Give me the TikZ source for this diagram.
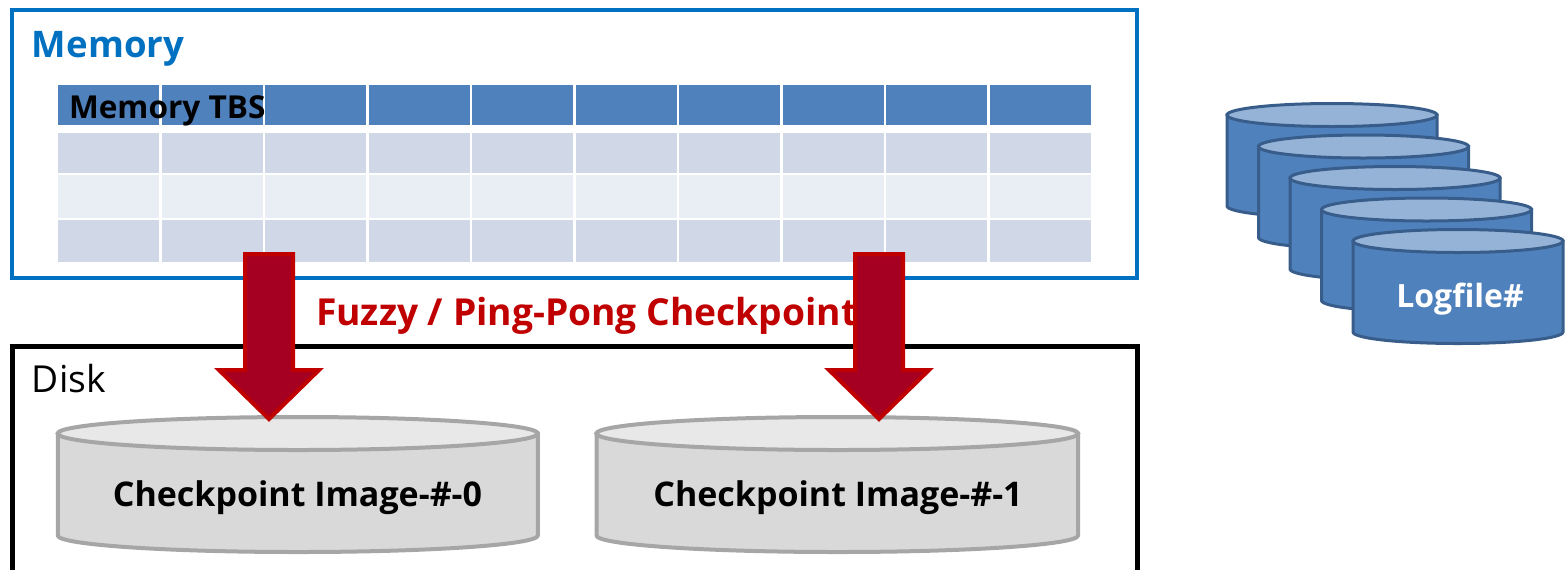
\documentclass[tikz,border=0pt]{standalone}
\usepackage{fontspec}
\setmainfont{Open Sans}
\definecolor{memblue}{HTML}{0070C0}
\definecolor{hdrblue}{HTML}{4F81BD}
\definecolor{rowa}{HTML}{D0D8E8}
\definecolor{rowb}{HTML}{E9EDF4}
\definecolor{arrfill}{HTML}{A50021}
\definecolor{arrline}{HTML}{C00000}
\definecolor{cylside}{HTML}{D9D9D9}
\definecolor{cyltop}{HTML}{E8E8E8}
\definecolor{cylline}{HTML}{A6A6A6}
\definecolor{logside}{HTML}{4F81BD}
\definecolor{logtop}{HTML}{95B3D7}
\definecolor{logline}{HTML}{385D8A}
% cx, cy, rx, ry, h, side, top, line, width
\newcommand{\drum}[9]{%
  \filldraw[fill=#6,draw=#8,line width=#9] (#1-#3,-#2) -- (#1-#3,-#2-#5)
     arc[start angle=180,end angle=360,x radius=#3,y radius=#4] -- (#1+#3,-#2) -- cycle;
  \filldraw[fill=#7,draw=#8,line width=#9] (#1,-#2) ellipse[x radius=#3,y radius=#4];
}
% block arrow down: centre x, top y, head y, tip y
\newcommand{\blockarrow}[4]{%
  \filldraw[fill=arrfill,draw=arrline,line width=2pt,line join=miter]
    (#1-24,-#2) -- (#1+24,-#2) -- (#1+24,-#3) -- (#1+50,-#3) -- (#1,-#4)
    -- (#1-50,-#3) -- (#1-24,-#3) -- cycle;
}
\tikzset{
  lbl/.style={inner sep=0pt,outer sep=0pt,anchor=base west},
  clbl/.style={inner sep=0pt,outer sep=0pt,anchor=base},
}
\begin{document}
\begin{tikzpicture}[x=0.5pt,y=0.5pt]
\useasboundingbox (0,0) rectangle (1567,-569);
\clip (0,0) rectangle (1567,-569);

% Memory box
\draw[memblue,line width=2pt] (11.5,-9.5) rectangle (1137,-278);
\node[lbl,text=memblue,font=\fontsize{18.3}{20}\selectfont\bfseries] (memlbl) at (32,-57) {Memory};

% table
\foreach \i in {0,...,9}{
  \pgfmathsetmacro{\xa}{58+\i*103.56}
  \pgfmathsetmacro{\xb}{\xa+101}
  \fill[hdrblue] (\xa,-85) rectangle (\xb,-125);
  \fill[rowa] (\xa,-133) rectangle (\xb,-173);
  \fill[rowb] (\xa,-175) rectangle (\xb,-218);
  \fill[rowa] (\xa,-220) rectangle (\xb,-262);
}
\node[lbl,font=\fontsize{15.8}{17}\selectfont\bfseries] (tbs) at (69,-118) {Memory TBS};

% checkpoint label
\node[lbl,text=arrline,font=\fontsize{18.6}{20}\selectfont\bfseries] (fuzzy) at (316,-325) {Fuzzy / Ping-Pong Checkpoint};

% Disk box
\draw[black,line width=2.5pt] (12,-346) rectangle (1137,-600);
\node[lbl,font=\fontsize{18.6}{20}\selectfont] (disk) at (32,-392) {Disk};

% disk cylinders
\drum{297.75}{433.5}{240}{16.5}{102}{cylside}{cyltop}{cylline}{2pt}
\drum{837.25}{433.5}{240.75}{16.5}{102}{cylside}{cyltop}{cylline}{2pt}
\node[clbl,font=\fontsize{17}{18}\selectfont\bfseries] (img0) at (297.5,-506) {Checkpoint Image-\#-0};
\node[clbl,font=\fontsize{17}{18}\selectfont\bfseries] (img1) at (838,-506) {Checkpoint Image-\#-1};

% log file cylinders
\foreach \k in {0,...,4}{
  \pgfmathsetmacro{\cx}{1332+\k*31.5}
  \pgfmathsetmacro{\cy}{115+\k*31.5}
  \drum{\cx}{\cy}{105}{11.5}{91}{logside}{logtop}{logline}{1.5pt}
}
\node[clbl,text=white,font=\fontsize{16}{18}\selectfont\bfseries] (logf) at (1460,-307) {Logfile\#};

% arrows
\blockarrow{269}{254}{370}{419}
\blockarrow{879}{254}{370}{419}
\end{tikzpicture}
\end{document}
